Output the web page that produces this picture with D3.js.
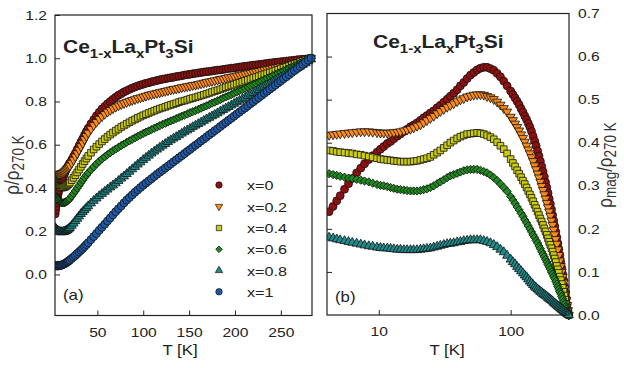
<!DOCTYPE html>
<html><head><meta charset="utf-8">
<script src="https://cdn.jsdelivr.net/npm/d3@7"></script>
<style>
body{margin:0;background:#fff}
svg{display:block}
text{font-family:"Liberation Sans",Arial,Helvetica,sans-serif;fill:#222}
</style>
</head><body>
<svg id="c" width="624" height="368"></svg>
<script>
// ---------- DATA ----------
const seriesLabels = ["x=0","x=0.2","x=0.4","x=0.6","x=0.8","x=1"];
const seriesColors = ["#8e1010","#ff8c1a","#cccc10","#1f8a1f","#1f8c8c","#1f5aa6"];

// Panel (a): rho / rho(270 K) vs T [K]
const panelA_T = [4,4.5,5,5.5,6,6.5,7,7.5,8,9,10,11,12,13,14,15,16,17,18,19,20,22,24,26,28,30,32,34,36,38,
  40,43,46,49,52,55,58,61,64,67,70,73,76,79,82,85,88,91,94,97,100,103,106,109,112,115,118,121,124,127,
  130,133,136,139,142,145,148,151,154,157,160,163,166,169,172,175,178,181,184,187,190,193,196,199,202,205,208,211,214,217,
  220,223,226,229,232,235,238,241,244,247,250,253,256,259,262,265,268,271,274,277,280,283];
const panelA_x0 = [0.28,0.298,0.315,0.33,0.345,0.358,0.37,0.38,0.39,0.405,0.42,0.43,0.44,0.453,0.465,0.475,0.485,0.493,0.5,0.508,0.515,0.53,0.545,0.561,0.578,0.595,0.612,0.628,0.645,0.661,
  0.676,0.697,0.716,0.734,0.75,0.765,0.777,0.789,0.8,0.81,0.82,0.829,0.836,0.844,0.85,0.856,0.862,0.867,0.872,0.876,0.88,0.884,0.887,0.891,0.894,0.897,0.9,0.903,0.905,0.908,
  0.91,0.912,0.915,0.917,0.919,0.922,0.924,0.926,0.928,0.93,0.932,0.934,0.936,0.938,0.939,0.941,0.943,0.945,0.946,0.948,0.95,0.952,0.954,0.955,0.957,0.959,0.961,0.963,0.964,0.966,
  0.968,0.969,0.971,0.972,0.974,0.976,0.978,0.979,0.981,0.982,0.984,0.985,0.987,0.988,0.99,0.991,0.993,0.994,0.995,0.996,0.998,1.0];
const panelA_x02 = [0.46,0.46,0.461,0.461,0.462,0.462,0.463,0.463,0.464,0.465,0.466,0.467,0.469,0.471,0.474,0.478,0.482,0.487,0.492,0.497,0.503,0.516,0.53,0.545,0.56,0.576,0.592,0.608,0.625,0.64,
  0.655,0.673,0.69,0.705,0.719,0.731,0.742,0.752,0.76,0.768,0.775,0.781,0.787,0.792,0.797,0.802,0.806,0.81,0.815,0.818,0.822,0.826,0.83,0.833,0.836,0.839,0.842,0.845,0.848,0.851,
  0.854,0.857,0.859,0.862,0.865,0.867,0.87,0.872,0.875,0.877,0.88,0.883,0.886,0.889,0.892,0.894,0.897,0.9,0.903,0.905,0.908,0.911,0.913,0.916,0.919,0.921,0.924,0.927,0.929,0.932,
  0.935,0.938,0.94,0.943,0.946,0.948,0.951,0.954,0.956,0.959,0.962,0.964,0.967,0.97,0.972,0.975,0.978,0.981,0.984,0.988,0.994,1.0];
const panelA_x04 = [0.425,0.422,0.42,0.417,0.415,0.413,0.411,0.409,0.408,0.405,0.403,0.402,0.402,0.403,0.404,0.406,0.409,0.412,0.416,0.42,0.425,0.436,0.447,0.459,0.472,0.485,0.498,0.511,0.524,0.536,
  0.548,0.563,0.578,0.591,0.603,0.615,0.626,0.637,0.647,0.656,0.665,0.673,0.682,0.689,0.697,0.704,0.711,0.717,0.724,0.73,0.736,0.741,0.747,0.752,0.757,0.762,0.767,0.771,0.775,0.78,
  0.784,0.788,0.792,0.797,0.801,0.804,0.808,0.812,0.816,0.819,0.823,0.827,0.831,0.835,0.839,0.844,0.848,0.852,0.856,0.861,0.866,0.87,0.874,0.878,0.883,0.887,0.891,0.896,0.9,0.904,
  0.909,0.913,0.917,0.922,0.926,0.93,0.934,0.939,0.943,0.947,0.952,0.956,0.96,0.964,0.969,0.973,0.977,0.982,0.986,0.991,0.995,1.0];
const panelA_x06 = [0.365,0.361,0.358,0.355,0.352,0.349,0.346,0.343,0.341,0.337,0.334,0.332,0.331,0.331,0.332,0.334,0.336,0.339,0.343,0.347,0.352,0.363,0.374,0.386,0.399,0.411,0.424,0.436,0.448,0.459,
  0.47,0.484,0.498,0.511,0.523,0.534,0.544,0.554,0.563,0.572,0.58,0.588,0.596,0.603,0.611,0.618,0.625,0.632,0.639,0.645,0.652,0.658,0.664,0.67,0.676,0.682,0.688,0.694,0.699,0.705,
  0.71,0.715,0.721,0.726,0.732,0.737,0.742,0.748,0.753,0.758,0.763,0.769,0.775,0.78,0.786,0.792,0.797,0.803,0.809,0.815,0.821,0.826,0.832,0.838,0.844,0.85,0.855,0.861,0.867,0.873,
  0.879,0.884,0.89,0.896,0.902,0.907,0.913,0.919,0.925,0.931,0.936,0.942,0.948,0.954,0.96,0.965,0.971,0.977,0.983,0.988,0.994,1.0];
const panelA_x08 = [0.215,0.212,0.209,0.206,0.204,0.202,0.201,0.2,0.199,0.197,0.196,0.196,0.196,0.197,0.198,0.2,0.202,0.205,0.208,0.212,0.216,0.226,0.236,0.247,0.258,0.269,0.28,0.289,0.298,0.307,
  0.316,0.329,0.341,0.352,0.363,0.373,0.383,0.393,0.403,0.412,0.422,0.433,0.444,0.454,0.465,0.476,0.487,0.498,0.509,0.519,0.53,0.54,0.55,0.56,0.569,0.578,0.587,0.596,0.604,0.613,
  0.621,0.629,0.636,0.644,0.652,0.66,0.667,0.674,0.682,0.689,0.696,0.703,0.711,0.718,0.725,0.732,0.739,0.746,0.754,0.761,0.768,0.775,0.782,0.79,0.797,0.804,0.811,0.818,0.826,0.833,
  0.84,0.847,0.854,0.862,0.869,0.876,0.883,0.89,0.898,0.905,0.912,0.919,0.926,0.934,0.941,0.948,0.955,0.962,0.97,0.977,0.986,0.995];
const panelA_x1 = [0.04,0.04,0.04,0.04,0.04,0.04,0.04,0.04,0.04,0.041,0.042,0.043,0.045,0.047,0.049,0.051,0.054,0.057,0.06,0.063,0.067,0.074,0.081,0.088,0.096,0.104,0.112,0.12,0.129,0.138,
  0.147,0.161,0.175,0.189,0.204,0.218,0.232,0.247,0.261,0.276,0.29,0.304,0.317,0.331,0.344,0.356,0.368,0.38,0.391,0.402,0.413,0.423,0.433,0.443,0.453,0.463,0.473,0.482,0.492,0.501,
  0.511,0.521,0.53,0.54,0.549,0.559,0.569,0.578,0.588,0.598,0.607,0.617,0.626,0.636,0.646,0.655,0.665,0.674,0.684,0.694,0.703,0.713,0.722,0.732,0.742,0.751,0.761,0.77,0.78,0.79,
  0.799,0.809,0.818,0.828,0.838,0.847,0.857,0.866,0.876,0.886,0.895,0.905,0.914,0.924,0.934,0.943,0.953,0.962,0.972,0.982,0.991,1.0];

// Panel (b): rho_mag / rho(270 K) vs T [K] (log axis)
const panelB_T = [4.2,4.5,4.8,5.1,5.5,5.9,6.3,6.8,7.3,7.8,8.4,9.0,9.7,
  10.3,10.9,11.6,12.3,13,13.8,14.6,15.5,16.4,17.4,18.4,19.5,20.7,21.9,23.2,24.6,26.1,27.7,29.3,31.1,33,34.9,37,39.3,41.6,44.1,46.8,49.6,52.5,55.7,59,62.6,66.3,70.3,74.5,79,83.7,88.7,94,
  100,104,108,112,116,120,124,128,132,136,140,144,148,152,156,160,164,168,172,176,180,184,188,192,196,200,204,208,212,216,220,224,228,232,236,240,244,248,252,256,260,264,268,272,276];
const panelB_x0 = [0.24,0.252,0.265,0.277,0.292,0.305,0.317,0.33,0.341,0.351,0.361,0.37,0.378,
  0.385,0.391,0.398,0.403,0.409,0.415,0.42,0.426,0.431,0.437,0.441,0.446,0.452,0.458,0.463,0.469,0.474,0.481,0.487,0.494,0.501,0.508,0.515,0.523,0.532,0.54,0.549,0.557,0.563,0.569,0.573,0.575,0.575,0.572,0.568,0.561,0.553,0.543,0.532,
  0.52,0.512,0.504,0.496,0.488,0.479,0.471,0.462,0.454,0.445,0.436,0.426,0.415,0.404,0.393,0.381,0.369,0.357,0.345,0.333,0.321,0.308,0.296,0.283,0.27,0.258,0.245,0.232,0.219,0.206,0.193,0.18,0.166,0.152,0.138,0.123,0.109,0.095,0.081,0.066,0.052,0.038,0.024,0.011,0.0];
const panelB_x02 = [0.418,0.419,0.42,0.421,0.422,0.423,0.424,0.425,0.426,0.426,0.426,0.425,0.424,
  0.423,0.423,0.423,0.423,0.424,0.425,0.426,0.428,0.43,0.432,0.435,0.439,0.442,0.447,0.452,0.457,0.462,0.468,0.473,0.478,0.483,0.487,0.491,0.496,0.5,0.503,0.507,0.509,0.511,0.512,0.512,0.511,0.508,0.505,0.501,0.495,0.488,0.48,0.472,
  0.46,0.452,0.444,0.436,0.428,0.419,0.411,0.402,0.393,0.384,0.375,0.366,0.357,0.347,0.338,0.328,0.319,0.309,0.299,0.29,0.28,0.27,0.26,0.25,0.24,0.23,0.219,0.209,0.198,0.187,0.176,0.165,0.152,0.139,0.126,0.113,0.1,0.088,0.075,0.061,0.048,0.035,0.023,0.011,0.0];
const panelB_x04 = [0.382,0.381,0.379,0.378,0.377,0.376,0.375,0.373,0.372,0.37,0.368,0.366,0.364,
  0.362,0.361,0.36,0.359,0.358,0.357,0.356,0.356,0.356,0.356,0.357,0.358,0.36,0.362,0.364,0.367,0.372,0.377,0.382,0.388,0.394,0.4,0.405,0.41,0.414,0.417,0.42,0.421,0.422,0.423,0.422,0.42,0.417,0.413,0.408,0.401,0.393,0.385,0.375,
  0.362,0.353,0.345,0.336,0.328,0.32,0.312,0.304,0.296,0.288,0.28,0.272,0.264,0.256,0.248,0.24,0.232,0.224,0.217,0.209,0.201,0.194,0.186,0.178,0.17,0.163,0.155,0.147,0.139,0.131,0.123,0.114,0.106,0.098,0.089,0.081,0.072,0.063,0.054,0.045,0.035,0.026,0.017,0.008,0.0];
const panelB_x06 = [0.328,0.326,0.324,0.322,0.32,0.318,0.317,0.315,0.313,0.311,0.309,0.306,0.303,
  0.301,0.3,0.298,0.296,0.294,0.292,0.291,0.29,0.289,0.288,0.288,0.288,0.289,0.291,0.293,0.296,0.3,0.305,0.309,0.314,0.319,0.323,0.326,0.329,0.332,0.335,0.337,0.338,0.338,0.338,0.336,0.333,0.33,0.325,0.319,0.312,0.304,0.296,0.287,
  0.275,0.267,0.259,0.251,0.244,0.236,0.229,0.221,0.214,0.207,0.2,0.193,0.186,0.18,0.173,0.167,0.16,0.154,0.147,0.141,0.135,0.129,0.123,0.117,0.112,0.106,0.1,0.095,0.089,0.084,0.078,0.072,0.066,0.06,0.054,0.049,0.043,0.037,0.031,0.025,0.019,0.014,0.009,0.004,0.0];
const panelB_x08 = [0.18,0.178,0.176,0.174,0.172,0.17,0.168,0.166,0.164,0.162,0.16,0.159,0.157,
  0.156,0.155,0.155,0.154,0.153,0.152,0.152,0.151,0.151,0.151,0.151,0.151,0.152,0.153,0.154,0.155,0.157,0.159,0.161,0.163,0.165,0.166,0.167,0.169,0.17,0.172,0.173,0.174,0.174,0.174,0.174,0.172,0.17,0.167,0.163,0.158,0.152,0.146,0.138,
  0.129,0.123,0.118,0.112,0.107,0.102,0.097,0.092,0.088,0.083,0.078,0.074,0.07,0.066,0.063,0.06,0.057,0.054,0.052,0.049,0.047,0.045,0.043,0.04,0.038,0.036,0.034,0.032,0.029,0.027,0.025,0.023,0.021,0.019,0.017,0.015,0.013,0.012,0.01,0.008,0.006,0.005,0.003,0.002,0.0];

// Ticks
const yTicksA = [0.0,0.2,0.4,0.6,0.8,1.0,1.2];
const xTicksA = [50,100,150,200,250];
const xTicksB = [10,100];
const yTicksB = [0.0,0.1,0.2,0.3,0.4,0.5,0.6,0.7];
const yInnerTicksB = [0.1,0.2,0.3,0.4,0.5,0.6];

// ---------- DRAWING ----------
const SX = 1.2; // horizontal glyph stretch seen in the reference
const svg = d3.select("#c");
const ink = "#222";

const A = {l:55, r:312, t:15, b:315.5};
const B = {l:327, r:569, t:13.5, b:315};

const xa = d3.scaleLinear().domain([3.8,284]).range([A.l,A.r]);
const ya = d3.scaleLinear().domain([-0.19,1.2]).range([A.b,A.t]);
const xb = d3.scaleLog().domain([4.05,277]).range([B.l,B.r]);
const yb = d3.scaleLinear().domain([0,0.7]).range([B.b,B.t]);

// circle, down-triangle, square, diamond (square turned 45°), up-triangle, circle
const symTypes = [d3.symbolCircle,d3.symbolTriangle,d3.symbolSquare,d3.symbolSquare,d3.symbolTriangle,d3.symbolCircle];
const symSizes = [50,36,44,34,36,50];
const symRot = [0,180,0,45,0,0];

function marker(i, scale){
  return d3.symbol().type(symTypes[i]).size(symSizes[i]*scale)();
}

function label(g, x, y, parts, size, opts){
  opts = opts || {};
  const tr = opts.rotate ? `translate(${x},${y}) rotate(-90) scale(1,${SX})` : `translate(${x},${y}) scale(${SX},1)`;
  const t = g.append("text").attr("transform", tr).attr("font-size", size)
    .attr("text-anchor", opts.anchor || "start");
  if (opts.bold) t.attr("font-weight","bold");
  if (opts.fill) t.style("fill", opts.fill);
  let shifted = 0;
  const subSize = opts.subSize || size*0.72;
  const subDy = opts.subDy || size*0.3;
  parts.forEach(p => {
    const sp = t.append("tspan").text(p.t);
    if (p.sub){ sp.attr("font-size", subSize); if(!shifted){sp.attr("dy", subDy); shifted=1;} }
    else { if(shifted){sp.attr("dy", -subDy); shifted=0;} }
  });
  return t;
}

function drawSeries(g, xs, ys, T, vals, i){
  const pts = T.map((t,k)=>[t,vals[k]]).filter(d => d[1] !== undefined);
  g.append("g").selectAll("path").data(pts).join("path")
    .attr("d", marker(i,1))
    .attr("transform", d => `translate(${xs(d[0])},${ys(d[1])}) rotate(${symRot[i]})`)
    .attr("fill", seriesColors[i]).attr("stroke", "#111").attr("stroke-width", 0.8);
}

function styleTickText(axisG){
  axisG.selectAll(".tick text").each(function(){
    const s = d3.select(this);
    const x = +s.attr("x") || 0;
    s.attr("x", x/SX).attr("transform", `scale(${SX},1)`)
     .attr("font-family",'"Liberation Sans",Arial,sans-serif').attr("font-size",13).attr("fill",ink);
  });
  axisG.selectAll(".tick line").attr("stroke", ink).attr("stroke-width",1);
  axisG.select(".domain").remove();
}

// ----- Panel a -----
const ga = svg.append("g");
const dataA = [panelA_x0,panelA_x02,panelA_x04,panelA_x06,panelA_x08,panelA_x1];
svg.append("clipPath").attr("id","clipA").append("rect")
  .attr("x",A.l).attr("y",A.t).attr("width",A.r-A.l+6).attr("height",A.b-A.t);
const pa = ga.append("g").attr("clip-path","url(#clipA)");
dataA.forEach((v,i)=>drawSeries(pa, xa, ya, panelA_T, v, i));

const axLA = ga.append("g").attr("transform",`translate(${A.l},0)`)
  .call(d3.axisLeft(ya).tickValues(yTicksA).tickSize(-5).tickPadding(8).tickFormat(d3.format(".1f")));
styleTickText(axLA);
const axBA = ga.append("g").attr("transform",`translate(0,${A.b})`)
  .call(d3.axisBottom(xa).tickValues(xTicksA).tickSize(-5).tickPadding(12).tickFormat(d3.format("d")));
styleTickText(axBA);
ga.append("rect").attr("x",A.l).attr("y",A.t).attr("width",A.r-A.l).attr("height",A.b-A.t)
  .attr("fill","none").attr("stroke",ink).attr("stroke-width",1.2);

// legend
const legRows = [185,206.5,228,249.3,270.5,291.8];
seriesLabels.forEach((s,i)=>{
  ga.append("path").attr("d", marker(i,0.65))
    .attr("transform",`translate(219,${legRows[i]}) rotate(${symRot[i]})`)
    .attr("fill",seriesColors[i]).attr("stroke","#111").attr("stroke-width",0.7);
  label(ga, 247, legRows[i]+5, [{t:s}], 13.5);
});

const titleParts = [{t:"Ce"},{t:"1-x",sub:true},{t:"La"},{t:"x",sub:true},{t:"Pt"},{t:"3",sub:true},{t:"Si"}];
label(ga, 63, 53, titleParts, 17.5, {bold:true, subSize:12.5, subDy:5});
label(ga, 63, 300, [{t:"(a)"}], 14);
label(ga, 180, 355, [{t:"T [K]"}], 14, {anchor:"middle"});
label(svg, 19, 165, [{t:"ρ/ρ"},{t:"270 K",sub:true}], 17, {rotate:true, anchor:"middle", subSize:13.5, subDy:4, fill:"#333"});

// ----- Panel b -----
const gb = svg.append("g");
const dataB = [panelB_x0,panelB_x02,panelB_x04,panelB_x06,panelB_x08];
svg.append("clipPath").attr("id","clipB").append("rect")
  .attr("x",B.l).attr("y",B.t).attr("width",B.r-B.l+5).attr("height",B.b-B.t+5);
const pb = gb.append("g").attr("clip-path","url(#clipB)");
dataB.forEach((v,i)=>drawSeries(pb, xb, yb, panelB_T, v, i));

const axLB = gb.append("g").attr("transform",`translate(${B.l},0)`)
  .call(d3.axisLeft(yb).tickValues(yInnerTicksB).tickSize(-5).tickFormat(""));
styleTickText(axLB);
const axRB = gb.append("g").attr("transform",`translate(${B.r},0)`)
  .call(d3.axisRight(yb).tickValues(yTicksB).tickSize(0).tickPadding(9).tickFormat(d3.format(".1f")));
styleTickText(axRB);
const axBB = gb.append("g").attr("transform",`translate(0,${B.b})`)
  .call(d3.axisBottom(xb).tickValues(xTicksB).tickSize(-5).tickPadding(12).tickFormat(d3.format("d")));
styleTickText(axBB);
gb.append("rect").attr("x",B.l).attr("y",B.t).attr("width",B.r-B.l).attr("height",B.b-B.t)
  .attr("fill","none").attr("stroke",ink).attr("stroke-width",1.2);

label(gb, 373, 48, titleParts, 17.5, {bold:true, subSize:12.5, subDy:5});
label(gb, 335, 302, [{t:"(b)"}], 14);
label(gb, 447, 355, [{t:"T [K]"}], 14, {anchor:"middle"});
label(svg, 612, 165, [{t:"ρ"},{t:"mag",sub:true},{t:"/ρ"},{t:"270 K",sub:true}], 17, {rotate:true, anchor:"middle", subSize:13.5, subDy:3.5, fill:"#333"});
</script>
</body></html>
